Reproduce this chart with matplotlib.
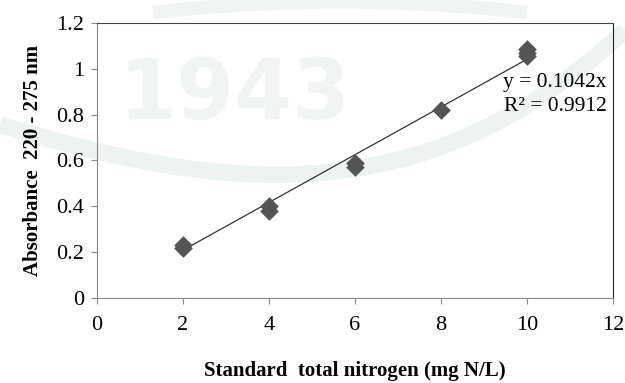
import matplotlib
matplotlib.use("Agg")
import matplotlib.pyplot as plt
import numpy as np

# Data
conc = [2, 2, 4, 4, 6, 6, 8, 10, 10, 10]
absorb = [0.22, 0.232, 0.381, 0.40, 0.573, 0.590, 0.820, 1.055, 1.07, 1.086]
slope = 0.1042
r2 = 0.9912
fit_x = [2, 10]
x_ticks = [0, 2, 4, 6, 8, 10, 12]
y_ticks = [0, 0.2, 0.4, 0.6, 0.8, 1.0, 1.2]
y_tick_labels = ["0", "0.2", "0.4", "0.6", "0.8", "1", "1.2"]

plt.rcParams['font.family'] = ['Liberation Serif', 'DejaVu Serif']

fig = plt.figure(figsize=(6.25, 3.83), dpi=100)

# faint watermark background (decoration)
bg = fig.add_axes([0, 0, 1, 1], zorder=-1)
bg.set_xlim(0, 625); bg.set_ylim(383, 0); bg.axis('off')
wx = np.array([0, 150, 300, 450, 560, 625])
wy = np.array([125, 162, 175, 142, 85, 30])
cf = np.polyfit(wx, wy, 3)
xx = np.linspace(0, 625, 200)
bg.plot(xx, np.polyval(cf, xx), color='#edf3ee', lw=12, solid_capstyle='butt')
bg.plot(np.linspace(160, 520, 50), 2 + 0.0003 * (np.linspace(160, 520, 50) - 340) ** 2,
        color='#f1f5f1', lw=10)
bg.text(235, 95, "1943", fontsize=60, fontweight='bold', color='#f1f5f2',
        ha='center', va='center', family='DejaVu Sans')

ax = fig.add_axes([0.155, 0.222, 0.826, 0.718])
ax.patch.set_alpha(0)

ax.scatter(conc, absorb, marker='D', s=90, color='#545454', zorder=3, linewidths=0)
fx = np.array(fit_x)
ax.plot(fx, slope * fx, color='#333333', lw=0.9, zorder=2)

ax.set_xlim(0, 12)
ax.set_ylim(0, 1.2)
ax.set_xticks(x_ticks)
ax.set_yticks(y_ticks)
ax.set_yticklabels(y_tick_labels)
ax.tick_params(axis='both', labelsize=16, length=4, color='#888888', direction='out', pad=5)
ax.tick_params(axis='x', pad=9)

for s in ['left', 'bottom']:
    ax.spines[s].set_color('#888888')
ax.spines['top'].set_color('#444444')
ax.spines['right'].set_color('#222222')

ax.text(0.988, 0.74, f"y = {slope}x\nR² = {r2}", transform=ax.transAxes,
        ha='right', va='center', fontsize=15.5, linespacing=1.35)

ax.set_ylabel("Absorbance  220 - 275 nm", fontsize=15, fontweight='bold', labelpad=10)
ax.set_xlabel("Standard  total nitrogen (mg N/L)", fontsize=15, fontweight='bold', labelpad=19)

fig.savefig("out.png", dpi=100)
